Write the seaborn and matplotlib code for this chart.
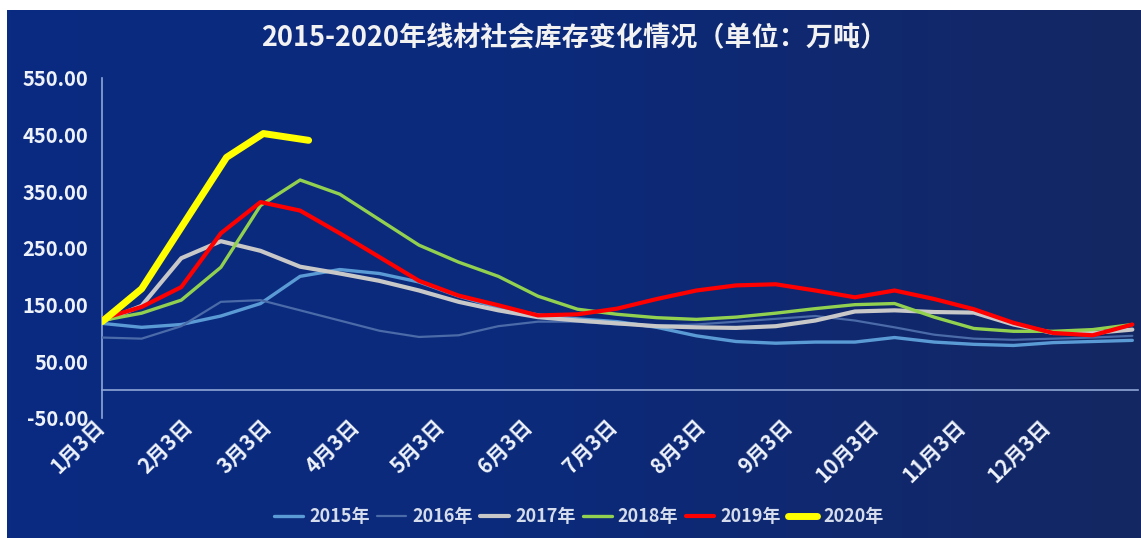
import numpy as np
import pandas as pd
import matplotlib
matplotlib.use("Agg")
import matplotlib.pyplot as plt
import seaborn as sns
from matplotlib.colors import LinearSegmentedColormap
from matplotlib.transforms import ScaledTranslation

# ---------------- data (days after Jan 3, values in 10k tonnes) ----------------
days = [0, 14, 28, 42, 56, 70, 84, 98, 112, 126, 140, 154, 168, 182,
        196, 210, 224, 238, 252, 266, 280, 294, 308, 322, 336, 350, 364]

y2015 = [117, 110, 115, 130, 152, 200, 212, 205, 190, 165, 145, 132, 125, 120,
         110, 95, 85, 82, 84, 84, 92, 84, 80, 78, 83, 85, 87]
y2016 = [92, 90, 112, 155, 158, 140, 122, 104, 93, 96, 112, 120, 120, 115,
         113, 115, 120, 125, 130, 122, 110, 97, 90, 88, 90, 92, 95]
y2017 = [120, 148, 232, 262, 245, 217, 205, 192, 175, 155, 140, 128, 122, 117,
         112, 110, 109, 112, 122, 138, 140, 137, 136, 115, 100, 100, 106]
y2018 = [122, 135, 158, 216, 325, 370, 345, 300, 255, 225, 200, 165, 142, 133,
         127, 124, 128, 135, 143, 150, 152, 128, 108, 103, 103, 106, 115]
y2019 = [125, 146, 181, 276, 331, 316, 276, 234, 192, 166, 149, 131, 133, 143,
         160, 175, 184, 186, 175, 163, 175, 160, 142, 118, 100, 96, 115]

days_2020 = [0, 14, 44, 57, 73]
y2020 = [120, 178, 410, 452, 440]

series_names = ["2015年", "2016年", "2017年", "2018年", "2019年", "2020年"]
tick_days = [0, 31, 59, 90, 120, 151, 181, 212, 243, 273, 304, 334]
tick_labels = ["1月3日", "2月3日", "3月3日", "4月3日", "5月3日", "6月3日",
               "7月3日", "8月3日", "9月3日", "10月3日", "11月3日", "12月3日"]
y_ticks = [-50, 50, 150, 250, 350, 450, 550]

title = "2015-2020年线材社会库存变化情况（单位：万吨）"

# ---------------- styling ----------------
colors = ["#5B9BD5", "#4A6AA8", "#C8C8C8", "#92D050", "#FF0000", "#FFFF00"]
widths = [2.4, 1.6, 3.0, 2.4, 3.0, 5.0]

sns.set_theme(style="white")
plt.rcParams["font.family"] = ["Noto Sans CJK SC", "DejaVu Sans"]

W, H = 1141, 538
fig = plt.figure(figsize=(W / 100, H / 100), dpi=100)
fig.patch.set_facecolor("white")

# gradient background panel
bg = fig.add_axes([7 / W, 0, 1 - 7 / W, 1 - 10 / H])
grad = np.linspace(0, 1, 256).reshape(1, -1)
cmap = LinearSegmentedColormap.from_list("bg", ["#0A2B82", "#0C2A7A", "#142762"])
bg.imshow(grad, aspect="auto", cmap=cmap, extent=[0, 1, 0, 1])
bg.axis("off")

ax = fig.add_axes([102 / W, (H - 418) / H, 1036 / W, 340 / H])
ax.set_facecolor("none")

frames = []
all_days = [days] * 5 + [days_2020]
all_vals = [y2015, y2016, y2017, y2018, y2019, y2020]
for name, d, v in zip(series_names, all_days, all_vals):
    frames.append(pd.DataFrame({"day": d, "value": v, "year": name}))
df = pd.concat(frames, ignore_index=True)

for i, name in enumerate(series_names):
    sub = df[df["year"] == name]
    sns.lineplot(data=sub, x="day", y="value", ax=ax, color=colors[i],
                 linewidth=widths[i], label=name, zorder=3 + i,
                 solid_joinstyle="round", solid_capstyle="round")

ax.set_xlim(0, 366)
ax.set_ylim(-50, 550)
ax.set_xlabel("")
ax.set_ylabel("")

axis_col = "#8FA6D6"
for s in ["top", "right"]:
    ax.spines[s].set_visible(False)
ax.spines["left"].set_color(axis_col)
ax.spines["left"].set_linewidth(1.2)
ax.spines["bottom"].set_color(axis_col)
ax.spines["bottom"].set_linewidth(1.2)
ax.spines["bottom"].set_position(("data", 0))

ax.set_yticks(y_ticks)
ax.set_yticklabels([f"{t:.2f}" for t in y_ticks])
ax.tick_params(axis="y", direction="out", length=6, width=1.2, color=axis_col,
               labelcolor="#EEF2FA", labelsize=14.5, pad=4)
for lbl in ax.get_yticklabels():
    lbl.set_fontweight("bold")

ax.set_xticks(tick_days)
ax.set_xticklabels(tick_labels, rotation=45, ha="right", va="top")
ax.tick_params(axis="x", direction="in", length=7, width=1.2, color=axis_col,
               labelcolor="#EEF2FA", labelsize=15, pad=19)
offset = ScaledTranslation(7 / 100, 0, fig.dpi_scale_trans)
for lbl in ax.get_xticklabels():
    lbl.set_fontweight("bold")
    lbl.set_transform(lbl.get_transform() + offset)

ax.grid(False)

leg = ax.legend(loc="center", bbox_to_anchor=(579 / W, 1 - 517 / H),
                bbox_transform=fig.transFigure, ncol=6, frameon=False,
                handlelength=1.6, handletextpad=0.35, columnspacing=0.4,
                fontsize=13, labelcolor="#D5DCEB")
for t in leg.get_texts():
    t.set_fontweight("bold")

fig.text(574 / W, 1 - 38 / H, title, ha="center", va="center",
         fontsize=19.5, fontweight="bold", color="#F2F2F2")

fig.savefig("out.png", dpi=100, facecolor=fig.get_facecolor())
